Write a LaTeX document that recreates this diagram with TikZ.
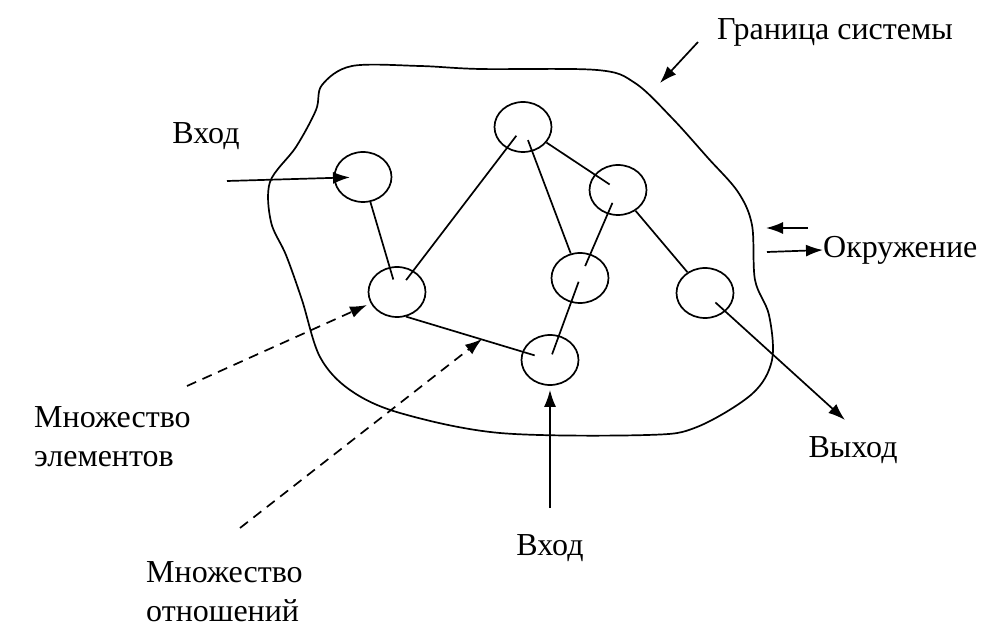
\documentclass[tikz,border=0pt]{standalone}
\usepackage{fontspec}
\setmainfont{Liberation Serif}
\usetikzlibrary{arrows.meta,shapes.geometric}
\tikzset{
  elem/.style={draw, ellipse, line width=1.7pt, minimum width=57pt, minimum height=50pt, inner sep=0pt},
  rel/.style={line width=1.7pt},
  arr/.style={line width=1.7pt, -{Latex[length=17pt,width=12pt]}},
  darr/.style={arr, dash pattern=on 10pt off 7pt},
  lbl/.style={inner sep=0pt, font=\fontsize{32}{39}\selectfont, text=black},
}
\begin{document}
\begin{tikzpicture}[x=1pt,y=-1pt]
\useasboundingbox[fill=white] (0,0) rectangle (986,644);
% system boundary
\draw[line width=1.7pt] plot[smooth cycle, tension=0.55] coordinates {
 (352,66) (420,66) (480,69) (597,70) (635,83) (672,118) (708,158) (738,192)
 (752,225) (755,280) (769,315) (772,360) (752,394) (697,427) (647,435)
 (500,433) (400,413) (350,390) (320,357) (302,300) (286,255) (271,222)
 (270,182) (296,147) (316,110) (322,85)};
% elements
\node[elem] (c1) at (363,177) {};
\node[elem] (c2) at (397,292) {};
\node[elem] (c3) at (523,127) {};
\node[elem] (c4) at (618,190) {};
\node[elem] (c5) at (580,278) {};
\node[elem] (c6) at (550,360) {};
\node[elem] (c7) at (705,293) {};
% relations
\draw[rel, shorten >=13pt] (c1) -- (c2.center);
\draw[rel, shorten <=15pt, shorten >=11pt] (c2.center) -- (c3.center);
\draw[rel, shorten <=14pt] (c3.center) -- (c5);
\draw[rel, shorten >=10pt] (c3) -- (c4.center);
\draw[rel, shorten <=14pt, shorten >=13pt] (c4.center) -- (c5.center);
\draw[rel] (c4) -- (c7);
\draw[rel, shorten >=16pt] (c2.-70) -- (c6.center);
\draw[rel, shorten <=6pt, shorten >=4pt] (c6.center) -- (c5.center);
% labels
\node[lbl] (gran) at (835,32) {Граница системы};
\node[lbl] (vh1) at (206,136) {Вход};
\node[lbl, anchor=west] (okr) at (823,250) {Окружение};
\node[lbl] (vyh) at (853,450) {Выход};
\node[lbl] (vh2) at (550,548) {Вход};
\node[lbl, anchor=west, align=left] (mel) at (34,437) {Множество\\элементов};
\node[lbl, anchor=west, align=left] (mot) at (146,592) {Множество\\отношений};
% coordinates
\coordinate (in1) at (227,181);
\coordinate (in2) at (550,508);
\coordinate (out) at (845,420);
\coordinate (gs) at (698,42);
\coordinate (gb) at (660,83);
\coordinate (e1a) at (808,228);
\coordinate (e1b) at (766,228);
\coordinate (e2a) at (767,252);
\coordinate (d1s) at (187,386);
\coordinate (d1e) at (367,305);
\coordinate (d2s) at (240,528);
\coordinate (d2e) at (482,339);
% arrows
\draw[arr, shorten >=13pt] (in1) -- (c1.center);
\draw[arr, shorten >=4pt] (in2) -- (c6);
\draw[arr, shorten <=14pt] (c7.center) -- (out);
\draw[arr] (gs) -- (gb);
\draw[arr] (e1a) -- (e1b);
\draw[arr] (e2a) -- (okr.west);
\draw[darr] (d1s) -- (d1e);
\draw[darr] (d2s) -- (d2e);
\end{tikzpicture}
\end{document}
